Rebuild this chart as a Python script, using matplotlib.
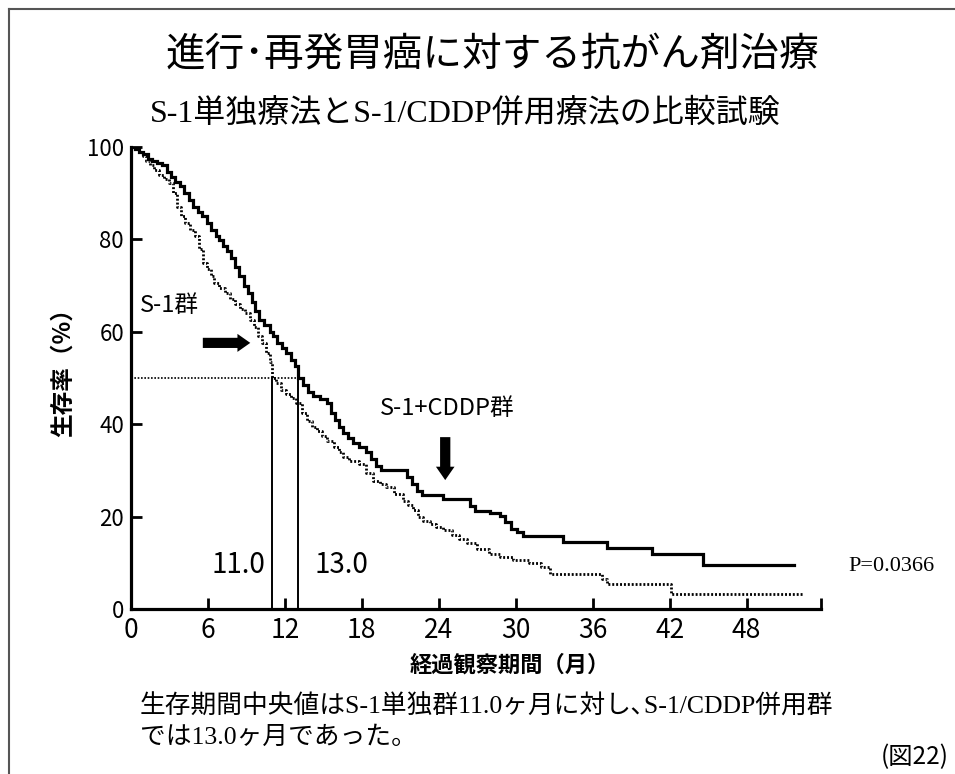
import matplotlib
matplotlib.use("Agg")
import matplotlib.pyplot as plt
from matplotlib.lines import Line2D
from matplotlib.patches import FancyArrow

# Kaplan-Meier steps: S-1 + CDDP (solid)
cddp_t = [0, 0.3, 0.6, 0.9, 1.3, 1.6, 2.0, 2.4, 2.8, 3.1,
          3.4, 3.8, 4.1, 4.5, 4.8, 5.2, 5.5, 5.9, 6.2, 6.6,
          6.9, 7.2, 7.5, 7.8, 8.1, 8.4, 8.8, 9.1, 9.4, 9.7,
          10.0, 10.4, 10.8, 11.1, 11.4, 11.8, 12.1, 12.5, 12.8, 13.0,
          13.4, 13.8, 14.2, 14.7, 15.3, 15.6, 15.9, 16.2, 16.5, 16.9,
          17.3, 17.8, 18.3, 18.7, 19.1, 19.5, 21.5, 21.9, 22.3, 22.7,
          24.3, 26.4, 26.8, 28.0, 28.8, 29.2, 29.6, 30.1, 30.6, 33.7,
          37.1, 40.6, 44.6]
cddp_surv = [100, 99.5, 99, 98.5, 97.5, 97, 96.5, 96, 94.5, 93.5,
             92.5, 91.5, 90, 88.5, 87, 86, 85, 83.5, 82, 80.8,
             79.8, 78.5, 77.5, 76, 74, 72, 70, 68.5, 66.5, 64.5,
             62.6, 61.5, 60, 59, 57.6, 56.5, 55.5, 54, 52.5, 50,
             48.5, 47, 46, 45.5, 44.5, 42.5, 41, 39.5, 38, 37,
             36, 35, 34, 32.5, 31, 30, 28.5, 27, 25.5, 24.6,
             23.8, 22.3, 21.3, 20.8, 20.2, 18.8, 17.4, 16.6, 15.9, 14.6,
             13.3, 12, 9.5]
cddp_last = 51.7

# S-1 alone (dotted)
s1_t = [0, 0.3, 0.6, 0.9, 1.2, 1.5, 1.8, 2.2, 2.6, 3.0,
        3.3, 3.6, 3.9, 4.2, 4.6, 5.0, 5.3, 5.6, 5.9, 6.2,
        6.5, 6.9, 7.3, 7.7, 8.1, 8.5, 8.9, 9.3, 9.6, 9.9,
        10.2, 10.5, 10.8, 11.0, 11.3, 11.7, 12.1, 12.5, 12.9, 13.3,
        13.7, 14.1, 14.5, 14.9, 15.3, 15.8, 16.2, 16.5, 17.0, 17.8,
        18.3, 18.9, 19.4, 19.9, 20.5, 21.2, 21.6, 22.0, 22.4, 22.8,
        23.3, 23.8, 24.3, 25.0, 25.6, 26.2, 27.0, 27.9, 28.8, 29.8,
        31.0, 32.0, 32.7, 36.7, 37.1, 42.1]
s1_surv = [100, 99.5, 99, 98, 97, 96, 95, 94, 93, 92.2,
           90, 87, 85, 83.6, 82, 80.7, 78, 75, 73.5, 72,
           70.6, 69.5, 68.5, 67, 66, 65, 64, 62.6, 61, 59,
           57.6, 55.5, 53.5, 50, 49, 47.5, 46.5, 45.7, 44.5, 42.5,
           40.6, 39.5, 38.5, 37.5, 36.3, 35, 34, 32.8, 32, 31.3,
           29.5, 27.7, 27, 26.3, 25, 23.4, 22.5, 21.5, 20, 19.1,
           18.5, 17.8, 17, 16, 15.2, 14.2, 13, 12, 11.2, 10.5,
           10.0, 9.0, 7.5, 6.5, 5.4, 3.2]
s1_last = 52.5

median_s1 = 11.0
median_cddp = 13.0
p_value = "0.0366"

x_ticks = [0, 6, 12, 18, 24, 30, 36, 42, 48]
y_ticks = [0, 20, 40, 60, 80, 100]

JP = "Noto Sans CJK JP"
NARROW = ["Liberation Sans Narrow", JP]
MIXED = ["Liberation Serif", JP]

fig = plt.figure(figsize=(9.55, 7.74), dpi=100)
ax = fig.add_axes([131 / 955, 1 - 609 / 774, 690 / 955, 462 / 774])

ax.plot(cddp_t + [cddp_last], cddp_surv + [cddp_surv[-1]],
        drawstyle="steps-post", color="black", lw=2.3, solid_joinstyle="miter")
ax.plot(s1_t + [s1_last], s1_surv + [s1_surv[-1]],
        drawstyle="steps-post", color="black", lw=2.0, linestyle=(0, (0.7, 0.7)))

# median guides
ax.plot([0, median_cddp], [50, 50], color="black", lw=1.2, linestyle=(0, (1, 1)))
ax.plot([median_s1, median_s1], [0, 50], color="black", lw=1.4)
ax.plot([median_cddp, median_cddp], [0, 50], color="black", lw=1.4)

ax.set_xlim(0, 53.8)
ax.set_ylim(0, 100)
for side in ["top", "right"]:
    ax.spines[side].set_visible(False)
for side in ["left", "bottom"]:
    ax.spines[side].set_linewidth(2.3)

ax.set_xticks(x_ticks)
ax.set_xticks([53.8], minor=True)
ax.set_yticks(y_ticks)
ax.tick_params(axis="both", which="both", direction="in", length=8, width=2)
ax.tick_params(axis="x", pad=6)
ax.tick_params(axis="y", pad=5)
for lab in ax.get_xticklabels():
    lab.set_family(NARROW)
    lab.set_fontsize(19)
for lab in ax.get_yticklabels():
    lab.set_family(NARROW)
    lab.set_fontsize(16)

ax.set_ylabel("生存率（%）", family=JP, fontsize=17, fontweight="bold")
ax.yaxis.set_label_coords(-0.081, 0.524)
ax.set_xlabel("経過観察期間（月）", family=JP, fontsize=16, fontweight="bold")
ax.xaxis.set_label_coords(0.549, -0.097)

ax.text(10.45, 9.5, f"{median_s1:.1f}", family=NARROW, fontsize=20, ha="right", va="center")
ax.text(14.3, 9.5, f"{median_cddp:.1f}", family=NARROW, fontsize=20, ha="left", va="center")
ax.text(0.7, 65.8, "S-1群", family=NARROW, fontsize=17, ha="left", va="center")
ax.text(19.4, 43.5, "S-1+CDDP群", family=NARROW, fontsize=17, ha="left", va="center")
ax.text(55.9, 9.1, f"P={p_value}", family="Liberation Serif", fontsize=16,
        ha="left", va="center", clip_on=False)

# pointer arrows
ax.add_patch(FancyArrow(5.6, 57.6, 3.7, 0, width=2.2, head_width=3.9, head_length=1.0,
                        length_includes_head=True, color="black", lw=0))
ax.add_patch(FancyArrow(24.5, 37.2, 0, -9.3, width=0.8, head_width=1.45, head_length=2.9,
                        length_includes_head=True, color="black", lw=0))

fig.text(0.516, 0.93, "進行･再発胃癌に対する抗がん剤治療", family=JP, fontsize=28.5,
         ha="center", va="center")
fig.text(0.487, 0.853, "S-1単独療法とS-1/CDDP併用療法の比較試験", family=MIXED, fontsize=23,
         ha="center", va="center")
fig.text(0.1466, 0.0866, "生存期間中央値はS-1単独群11.0ヶ月に対し､S-1/CDDP併用群",
         family=MIXED, fontsize=18.5, ha="left", va="center")
fig.text(0.1466, 0.0465, "では13.0ヶ月であった。", family=MIXED, fontsize=18.5,
         ha="left", va="center")
fig.text(0.993, 0.022, "(図22)", family=JP, fontsize=17.5, ha="right", va="center")

# frame lines along the top and left edge
fig.add_artist(Line2D([8.5 / 955, 1], [1 - 8.5 / 774, 1 - 8.5 / 774],
                      color="#555555", lw=1.5, transform=fig.transFigure))
fig.add_artist(Line2D([8.5 / 955, 8.5 / 955], [0, 1 - 8.5 / 774],
                      color="#555555", lw=1.5, transform=fig.transFigure))

fig.savefig("out.png", dpi=100, facecolor="white")
